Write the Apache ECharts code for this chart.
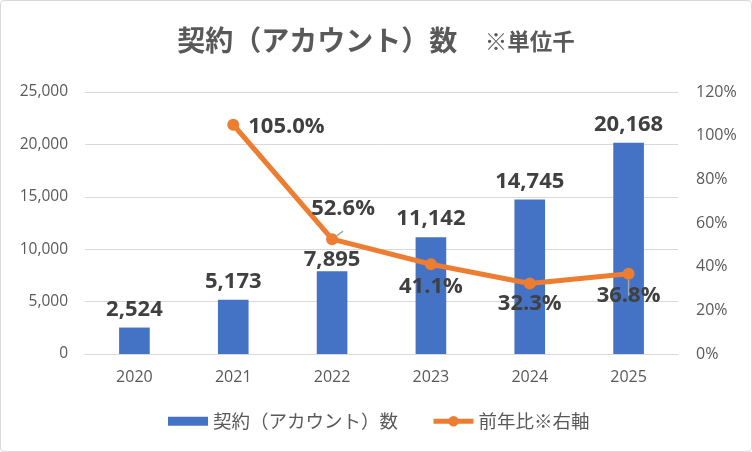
<!DOCTYPE html>
<html>
<head>
<meta charset="utf-8">
<script src="https://cdn.jsdelivr.net/npm/echarts@6/dist/echarts.min.js"></script>
<style>
html, body { margin: 0; padding: 0; background: #fff; }
#main { width: 750px; height: 450px; border: 1px solid #d9d9d9; border-radius: 4px; }
</style>
</head>
<body>
<div id="main"></div>
<script>
var years = ['2020', '2021', '2022', '2023', '2024', '2025'];
var accounts = [2524, 5173, 7895, 11142, 14745, 20168];
var growth = [null, 105.0, 52.6, 41.1, 32.3, 36.8];

var numFont = '"Open Sans", "Noto Sans", sans-serif';
var jpFont = '"Noto Sans CJK JP", sans-serif';

// per-point label placement for the line
var lineLabelPos = [
    null,
    { position: 'right', offset: [4, 2] },
    { position: 'top', offset: [11, -8] },
    { position: 'bottom', offset: [0, 0] },
    { position: 'bottom', offset: [0, -2] },
    { position: 'bottom', offset: [0, 0] }
];
var showLeader = [false, false, true, false, false, true];

var lineData = growth.map(function (v, i) {
    if (v == null) return '-';
    return {
        value: v,
        label: lineLabelPos[i],
        labelLine: { show: showLeader[i], lineStyle: { color: '#a6a6a6', width: 1.5 } }
    };
});

var barData = accounts.map(function (v, i) {
    var item = { value: v };
    if (i === 2) item.label = { distance: 1 };
    return item;
});

var legendText = { fontFamily: jpFont, fontSize: 18.5, color: '#595959' };

option = {
    animation: false,
    title: {
        text: '{a|契約（アカウント）数}{b|　 ※単位千}',
        left: 'center',
        top: 20,
        textStyle: {
            rich: {
                a: { fontFamily: jpFont, fontSize: 28, fontWeight: 'bold', color: '#595959' },
                b: { fontFamily: jpFont, fontSize: 22.5, fontWeight: 'bold', color: '#595959', padding: [3, 0, 0, 0] }
            }
        }
    },
    legend: [
        {
            left: 167,
            top: 411,
            padding: 0,
            itemWidth: 40,
            itemHeight: 9,
            textStyle: legendText,
            data: [{ name: '契約（アカウント）数', icon: 'rect' }]
        },
        {
            left: 430,
            top: 411,
            padding: 0,
            itemWidth: 40,
            itemHeight: 13,
            textStyle: legendText,
            lineStyle: { width: 5 },
            data: [{ name: '前年比※右軸' }]
        }
    ],
    grid: {
        left: 84,
        right: 73,
        top: 91,
        bottom: 97
    },
    xAxis: {
        type: 'category',
        data: years,
        axisTick: { show: false },
        axisLine: { lineStyle: { color: '#d9d9d9' } },
        axisLabel: { fontFamily: numFont, fontSize: 16, color: '#595959', margin: 15 }
    },
    yAxis: [
        {
            type: 'value',
            min: 0,
            max: 25000,
            interval: 5000,
            axisLine: { show: false },
            axisTick: { show: false },
            splitLine: { lineStyle: { color: '#d9d9d9' } },
            axisLabel: {
                fontFamily: numFont, fontSize: 15.5, color: '#595959', margin: 17,
                formatter: function (v) { return v.toLocaleString('en-US'); }
            }
        },
        {
            type: 'value',
            min: 0,
            max: 120,
            interval: 20,
            axisLine: { show: false },
            axisTick: { show: false },
            splitLine: { show: false },
            axisLabel: {
                fontFamily: numFont, fontSize: 16, color: '#595959', margin: 18,
                formatter: '{value}%'
            }
        }
    ],
    series: [
        {
            name: '契約（アカウント）数',
            type: 'bar',
            data: barData,
            barWidth: '31%',
            itemStyle: { color: '#4472C4' },
            label: {
                show: true,
                position: 'top',
                distance: 7,
                fontFamily: numFont,
                fontSize: 22,
                fontWeight: 'bold',
                color: '#404040',
                formatter: function (p) { return p.value.toLocaleString('en-US'); }
            }
        },
        {
            name: '前年比※右軸',
            type: 'line',
            yAxisIndex: 1,
            data: lineData,
            symbol: 'circle',
            symbolSize: 12,
            lineStyle: { color: '#ED7D31', width: 5 },
            itemStyle: { color: '#ED7D31' },
            label: {
                show: true,
                fontFamily: numFont,
                fontSize: 22,
                fontWeight: 'bold',
                color: '#404040',
                formatter: function (p) { return p.value.toFixed(1) + '%'; }
            }
        }
    ]
};

var myChart = echarts.init(document.getElementById('main'));
myChart.setOption(option);
</script>
</body>
</html>
